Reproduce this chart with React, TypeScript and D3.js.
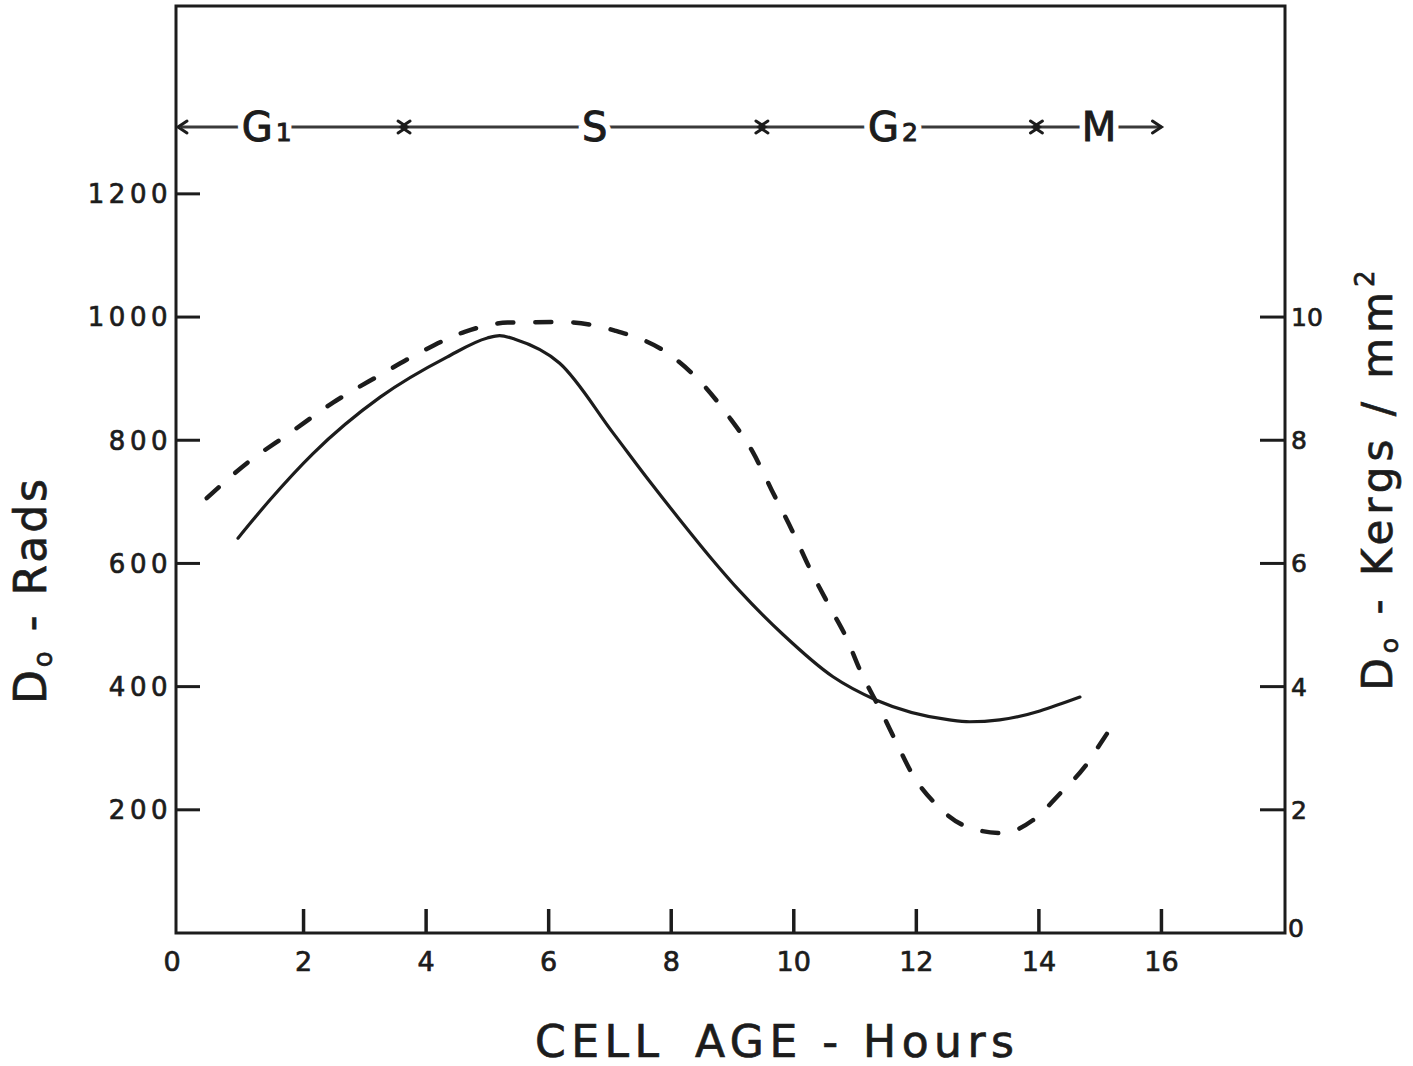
import React from "react";
import * as d3 from "d3";

// ---- Data ----
const solidHours = [0.93, 1.45, 2.15, 3.25, 4.34, 5.0, 5.2, 5.45, 6.18, 7.05, 7.65, 8.14, 8.63, 9.12, 9.82, 10.64, 11.35, 12.54, 12.87, 13.36, 14.67];
const solidRads = [641, 703, 778, 870, 935, 966, 970, 964, 925, 812, 733, 671, 611, 555, 485, 416, 378, 346, 343, 346, 383];

const dashedHours = [0.42, 1.08, 1.78, 2.48, 3.25, 3.93, 4.63, 5.33, 6.22, 7.08, 7.93, 8.55, 8.92, 9.33, 9.64, 9.97, 10.29, 10.59, 10.86, 11.08, 11.44, 11.68, 11.94, 12.3, 12.84, 13.41, 13.9, 14.37, 14.75, 15.04, 15.14];
const dashedRads = [706, 763, 812, 861, 906, 944, 976, 991, 992, 978, 942, 887, 841, 781, 719, 654, 586, 529, 479, 427, 357, 308, 257, 211, 172, 162, 183, 229, 270, 313, 328];

const xTicks = [2, 4, 6, 8, 10, 12, 14, 16];
const xTickLabels = [0, 2, 4, 6, 8, 10, 12, 14, 16];
const leftTicks = [200, 400, 600, 800, 1000, 1200];
const rightTicks = [2, 4, 6, 8, 10];
const rightTickLabels = [0, 2, 4, 6, 8, 10];

const phaseNames = ["G", "S", "G", "M"];
const phaseSubs = ["1", "", "2", ""];
const phaseBounds = [0, 3.64, 9.48, 13.96, 16];
const phaseLabelAt = [1.4, 6.75, 11.62, 14.98];

const W = 1413;
const H = 1066;
const FONT = "'DejaVu Sans', 'Liberation Sans', sans-serif";
const INK = "#1c1c1c";

export default function App() {
  const frameL = 176, frameR = 1285, frameT = 6, frameB = 933;
  const x = d3.scaleLinear().domain([0, 18]).range([181, 1284]);
  const y = d3.scaleLinear().domain([0, 1505]).range([933, 6]);
  const yR = d3.scaleLinear().domain([0, 15.05]).range([933, 6]);

  const line = d3
    .line<[number, number]>()
    .x((d) => x(d[0]))
    .y((d) => y(d[1]))
    .curve(d3.curveMonotoneX);

  const solid = line(solidHours.map((h, i) => [h, solidRads[i]]) as [number, number][]) || "";
  const dashed = line(dashedHours.map((h, i) => [h, dashedRads[i]]) as [number, number][]) || "";

  const barY = 127;
  const head = (tipX: number, dir: number, key: string) => (
    <path
      key={key}
      d={`M${tipX - dir * 9},${barY - 6} L${tipX},${barY} L${tipX - dir * 9},${barY + 6}`}
      fill="none"
      stroke={INK}
      strokeWidth={3}
      strokeLinecap="round"
    />
  );

  const textInk = { fill: INK, stroke: INK, strokeWidth: 0.7 };

  return (
    <div style={{ position: "absolute", left: 0, top: 0 }}>
      <svg width={W} height={H} style={{ display: "block", background: "#fff" }}>
        {/* frame */}
        <rect
          x={frameL}
          y={frameT}
          width={frameR - frameL}
          height={frameB - frameT}
          fill="none"
          stroke={INK}
          strokeWidth={3}
        />

        {/* x ticks */}
        {xTicks.map((t) => (
          <line key={"xt" + t} x1={x(t)} x2={x(t)} y1={frameB} y2={frameB - 24} stroke={INK} strokeWidth={3.5} />
        ))}
        {xTickLabels.map((t) => (
          <text
            key={"xl" + t}
            x={t === 0 ? x(t) - 9 : x(t)}
            y={971}
            textAnchor="middle"
            fontFamily={FONT}
            fontSize={27}
            {...textInk}
          >
            {t}
          </text>
        ))}

        {/* left ticks */}
        {leftTicks.map((t) => (
          <g key={"lt" + t}>
            <line x1={frameL} x2={frameL + 24} y1={y(t)} y2={y(t)} stroke={INK} strokeWidth={3} />
            <text
              x={172}
              y={y(t)}
              dy="0.36em"
              textAnchor="end"
              fontFamily={FONT}
              fontSize={26}
              letterSpacing={4.5}
              {...textInk}
            >
              {t}
            </text>
          </g>
        ))}

        {/* right ticks */}
        {rightTicks.map((t) => (
          <line key={"rt" + t} x1={frameR - 25} x2={frameR} y1={yR(t)} y2={yR(t)} stroke={INK} strokeWidth={3} />
        ))}
        {rightTickLabels.map((t) => (
          <text
            key={"rl" + t}
            x={t === 0 ? 1288 : 1291}
            y={t === 0 ? yR(t) - 5 : yR(t)}
            dy="0.36em"
            textAnchor="start"
            fontFamily={FONT}
            fontSize={25}
            {...textInk}
          >
            {t}
          </text>
        ))}

        {/* phase bar */}
        <line x1={x(phaseBounds[0])} x2={x(phaseBounds[4])} y1={barY} y2={barY} stroke="#3a3a3a" strokeWidth={3} />
        {head(x(phaseBounds[0]) - 3, -1, "h0")}
        {phaseBounds.slice(1, 4).map((b, i) => (
          <g key={"pb" + i}>
            {head(x(b) + 3, 1, "r")}
            {head(x(b) - 3, -1, "l")}
          </g>
        ))}
        {head(x(phaseBounds[4]), 1, "hend")}
        {phaseNames.map((n, i) => (
          <g key={"pn" + i}>
            <text
              x={x(phaseLabelAt[i])}
              y={barY + 14}
              textAnchor="middle"
              fontFamily={FONT}
              fontSize={40}
              fill="#fff"
              stroke="#fff"
              strokeWidth={12}
            >
              {n}
              {phaseSubs[i] && (
                <tspan fontSize={25} dx={3}>
                  {phaseSubs[i]}
                </tspan>
              )}
            </text>
            <text
              x={x(phaseLabelAt[i])}
              y={barY + 14}
              textAnchor="middle"
              fontFamily={FONT}
              fontSize={40}
              {...textInk}
              strokeWidth={1}
            >
              {n}
              {phaseSubs[i] && (
                <tspan fontSize={25} dx={3}>
                  {phaseSubs[i]}
                </tspan>
              )}
            </text>
          </g>
        ))}

        {/* curves */}
        <path d={dashed} fill="none" stroke={INK} strokeWidth={4.5} strokeDasharray="16 22" strokeLinecap="round" />
        <path d={solid} fill="none" stroke={INK} strokeWidth={3.2} strokeLinecap="round" strokeLinejoin="round" />

        {/* axis titles */}
        <text
          transform="translate(46,590) rotate(-90)"
          textAnchor="middle"
          fontFamily={FONT}
          fontSize={44}
          letterSpacing={3}
          {...textInk}
        >
          D<tspan fontSize={26} dy={6}>o</tspan>
          <tspan dy={-6}>{" - Rads"}</tspan>
        </text>
        <text
          transform="translate(1392,478) rotate(-90)"
          textAnchor="middle"
          fontFamily={FONT}
          fontSize={42}
          letterSpacing={5}
          {...textInk}
        >
          D<tspan fontSize={25} dy={6}>o</tspan>
          <tspan dy={-6}>{" - Kergs / mm"}</tspan>
          <tspan fontSize={26} dy={-18}>2</tspan>
        </text>
        <text x={535} y={1057} fontFamily={FONT} fontSize={44} letterSpacing={5.5} {...textInk}>
          CELL
        </text>
        <text x={695} y={1057} fontFamily={FONT} fontSize={44} letterSpacing={5.5} {...textInk}>
          {"AGE - Hours"}
        </text>
      </svg>
    </div>
  );
}
